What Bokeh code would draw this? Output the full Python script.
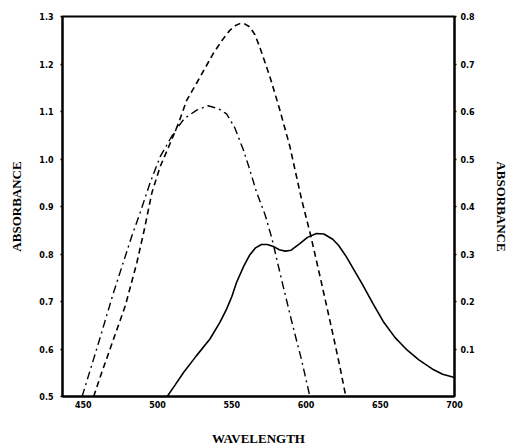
from bokeh.plotting import figure
from bokeh.models import Range1d, LinearAxis, FixedTicker, CustomJSTickFormatter
from bokeh.embed import file_html
from bokeh.resources import INLINE

# ---- data ----
wavelength_ticks = [450, 500, 550, 600, 650, 700]
left_ticks = [0.5, 0.6, 0.7, 0.8, 0.9, 1.0, 1.1, 1.2, 1.3]
right_ticks = [0.1, 0.2, 0.3, 0.4, 0.5, 0.6, 0.7, 0.8]

# dashed curve (left axis)
dashed_wl = [457, 462.6, 470.4, 478.3, 486.1, 491, 496.2, 501.8, 508.5, 514.1, 519.7, 526.4,
             537.5, 544, 548.7, 552.5, 555.4, 559, 562.1, 565.5, 568.8, 575.6, 582.3, 589,
             597, 603, 610, 617, 622.6, 626.8]
dashed_abs = [0.5, 0.552, 0.621, 0.691, 0.782, 0.85, 0.929, 0.984, 1.033, 1.075, 1.124, 1.16,
              1.222, 1.252, 1.271, 1.281, 1.285, 1.284, 1.278, 1.262, 1.236, 1.174, 1.104, 1.028,
              0.915, 0.841, 0.745, 0.647, 0.566, 0.5]

# dash-dot curve (left axis)
dashdot_wl = [449.2, 460, 470, 482.7, 488.3, 495, 501.8, 510.7, 518, 526.4, 534, 541, 546.5,
              552, 557.7, 562, 566.7, 572.5, 577, 584, 591, 597, 602.6]
dashdot_abs = [0.5, 0.61, 0.715, 0.838, 0.887, 0.95, 1.005, 1.054, 1.085, 1.103, 1.112, 1.106,
               1.095, 1.066, 1.02, 0.979, 0.93, 0.882, 0.833, 0.74, 0.65, 0.577, 0.5]

# solid curve (right axis)
solid_wl = [506.5, 512, 517.4, 526, 535.3, 542, 546.5, 550, 553.2, 558, 562.1, 566, 570, 574,
            578, 582, 586, 590, 595.8, 601, 607, 612, 618, 622, 627, 632, 638, 645, 652, 660,
            668, 676, 685, 692, 700]
solid_abs = [0.0, 0.025, 0.05, 0.085, 0.121, 0.156, 0.184, 0.21, 0.24, 0.274, 0.298, 0.313,
             0.32, 0.32, 0.316, 0.309, 0.306, 0.308, 0.322, 0.335, 0.343, 0.342, 0.331, 0.318,
             0.295, 0.268, 0.236, 0.196, 0.158, 0.124, 0.098, 0.077, 0.058, 0.047, 0.04]

TICK_FONT = "DejaVu Sans"
LABEL_FONT = "Liberation Serif"

p = figure(width=512, height=448, x_range=Range1d(436, 700), y_range=Range1d(0.5, 1.3),
           output_backend="svg", toolbar_location=None,
           min_border_left=62, min_border_right=58, min_border_top=16, min_border_bottom=50)
p.extra_y_ranges = {"right": Range1d(0.0, 0.8)}

p.xgrid.visible = False
p.ygrid.visible = False
p.outline_line_color = "black"
p.outline_line_width = 2
p.background_fill_color = "white"
p.border_fill_color = "white"


def style_axis(ax, tick_out=0):
    ax.major_tick_line_color = "black"
    ax.major_tick_line_width = 1.5
    ax.major_tick_out = tick_out
    ax.major_tick_in = 0
    ax.minor_tick_line_color = None
    ax.minor_tick_out = 0
    ax.minor_tick_in = 0
    ax.axis_line_color = "black"
    ax.axis_line_width = 2
    ax.major_label_text_font = TICK_FONT
    ax.major_label_text_font_style = "bold"
    ax.major_label_text_font_size = "8px"
    ax.major_label_text_color = "black"
    ax.axis_label_text_font = LABEL_FONT
    ax.axis_label_text_font_style = "bold"
    ax.axis_label_text_font_size = "13px"
    ax.axis_label_text_color = "black"


xa = p.xaxis[0]
style_axis(xa)
xa.ticker = FixedTicker(ticks=wavelength_ticks)
xa.axis_label = "WAVELENGTH"
xa.major_label_standoff = 4
xa.axis_label_standoff = 20

ya = p.yaxis[0]
style_axis(ya, tick_out=2)
ya.ticker = FixedTicker(ticks=left_ticks)
ya.formatter = CustomJSTickFormatter(code="return tick.toFixed(1);")
ya.axis_label = "ABSORBANCE"
ya.major_label_standoff = 7
ya.axis_label_standoff = 12

ra = LinearAxis(y_range_name="right")
style_axis(ra, tick_out=2)
ra.ticker = FixedTicker(ticks=right_ticks)
ra.formatter = CustomJSTickFormatter(code="return tick.toFixed(1);")
ra.axis_label = "ABSORBANCE"
ra.major_label_standoff = 4
ra.axis_label_standoff = 16
p.add_layout(ra, "right")

p.line(dashed_wl, dashed_abs, line_color="black", line_width=1.6, line_dash="6 4")
p.line(dashdot_wl, dashdot_abs, line_color="black", line_width=1.4, line_dash="8 4 2 4")
p.line(solid_wl, solid_abs, line_color="black", line_width=1.6, y_range_name="right")

open("out.html", "w").write(file_html(p, INLINE))
